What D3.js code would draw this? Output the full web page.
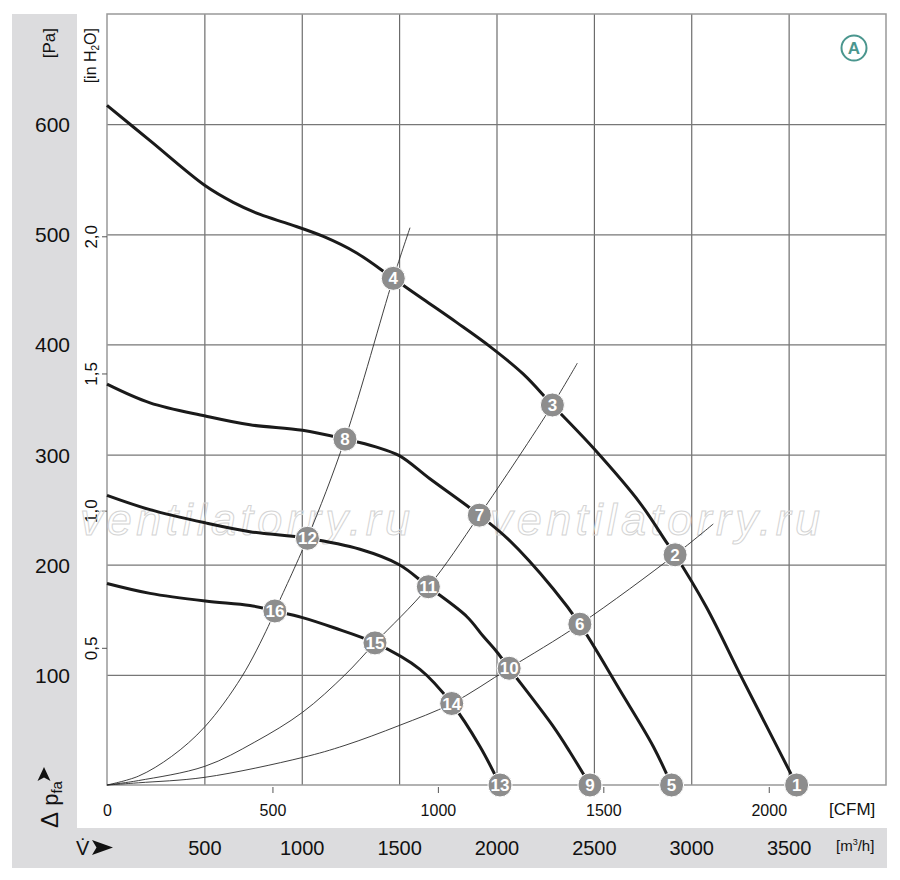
<!DOCTYPE html>
<meta charset="utf-8">
<script src="https://d3js.org/d3.v7.min.js"></script>
<style>
  body { margin: 0; background: #fff; }
  text { font-family: "Liberation Sans", Arial, sans-serif; fill: #111; }
  .narrow { font-family: "Liberation Sans Narrow", "Liberation Sans", sans-serif; }
</style>
<div id="chart"></div>

<script>
    // tick values
    const flowTicks = [500, 1000, 1500, 2000, 2500, 3000, 3500];   // m3/h
    const cfmTicks = [0, 500, 1000, 1500, 2000];
    const paTicks = [100, 200, 300, 400, 500, 600];
    const inchTicks = [0.5, 1.0, 1.5, 2.0];

    // fan curves: [m3/h, Pa]
    const fan1 = [[0, 617], [221, 585], [505, 544], [648, 529], [786, 518], [940, 509], [1111, 498],
        [1282, 483], [1470, 460], [1624, 441], [1795, 420], [1967, 398], [2138, 373], [2287, 345],
        [2502, 305], [2737, 256], [2874, 220], [2917, 209], [3076, 162], [3252, 100], [3388, 53], [3541, 0]];
    const fan2 = [[0, 364], [221, 347], [505, 335], [734, 327], [1004, 322], [1222, 314], [1380, 307],
        [1501, 299], [1658, 278], [1912, 245], [2061, 223], [2292, 178], [2428, 146], [2634, 86],
        [2805, 35], [2899, 0]];
    const fan3 = [[0, 263], [221, 250], [505, 238], [734, 230], [1029, 224], [1299, 214], [1501, 200],
        [1650, 180], [1847, 153], [1932, 135], [2001, 121], [2065, 106], [2292, 53], [2377, 30], [2480, 0]];
    const fan4 = [[0, 183], [221, 174], [505, 167], [734, 163], [862, 158], [1004, 152], [1162, 143],
        [1376, 129], [1607, 105], [1770, 74], [1915, 35], [2018, 0]];

    // system (resistance) curves
    const sysA = [[0, 0], [161, 8], [332, 26], [503, 53], [691, 98], [828, 144], [862, 158], [1029, 224],
        [1222, 314], [1470, 460], [1556, 506]];
    const sysB = [[0, 0], [161, 4], [503, 17], [759, 39], [1004, 66], [1222, 100], [1376, 129], [1650, 180],
        [1912, 245], [2287, 345], [2415, 383]];
    const sysC = [[0, 0], [161, 2], [503, 7], [1004, 25], [1222, 36], [1500, 54], [1770, 74], [2065, 106],
        [2428, 146], [2917, 209], [3113, 237]];

    // operating points
    const pointIds = [1, 2, 3, 4, 5, 6, 7, 8, 9, 10, 11, 12, 13, 14, 15, 16];
    const pointFlow = [3541, 2917, 2287, 1470, 2899, 2428, 1912, 1222, 2480, 2065, 1650, 1029, 2018, 1770, 1376, 862];
    const pointPa = [0, 209, 345, 460, 0, 146, 245, 314, 0, 106, 180, 224, 0, 74, 129, 158];

    const W = 900, H = 880;
    const plotL = 107, plotR = 886, plotT = 14, plotB = 785;

    const svg = d3.select("#chart")
        .append("svg")
        .attr("width", W)
        .attr("height", H);

    // grey bands
    svg.append("rect").attr("x", 12).attr("y", 14).attr("width", 65).attr("height", 854).attr("fill", "#dcdcde");
    svg.append("rect").attr("x", 12).attr("y", 828).attr("width", 875).attr("height", 40).attr("fill", "#dcdcde");

    const x = d3.scaleLinear().domain([0, 4000]).range([plotL, plotR]);
    const xCfm = d3.scaleLinear().domain([0, 4000 / 1.699]).range([plotL, plotR]);
    const y = d3.scaleLinear().domain([0, 700]).range([plotB, plotT]);
    const yIn = d3.scaleLinear().domain([0, 700 / 249.09]).range([plotB, plotT]);

    // grid
    const gx = svg.append("g")
        .attr("transform", `translate(0, ${plotB})`)
        .call(d3.axisBottom(x).tickValues(flowTicks).tickSize(-(plotB - plotT)).tickFormat(""));
    gx.select(".domain").remove();
    gx.selectAll("line").attr("stroke", "#606060").attr("stroke-width", 1.1);

    const gy = svg.append("g")
        .attr("transform", `translate(${plotL}, 0)`)
        .call(d3.axisLeft(y).tickValues(paTicks).tickSize(-(plotR - plotL)).tickFormat(""));
    gy.select(".domain").remove();
    gy.selectAll("line").attr("stroke", "#777").attr("stroke-width", 1.2);

    svg.append("rect")
        .attr("x", plotL).attr("y", plotT)
        .attr("width", plotR - plotL).attr("height", plotB - plotT)
        .attr("fill", "none").attr("stroke", "#999").attr("stroke-width", 1.5);

    // Pa labels
    const aPa = svg.append("g")
        .attr("transform", `translate(${plotL}, 0)`)
        .call(d3.axisLeft(y).tickValues(paTicks).tickSize(0).tickPadding(37));
    aPa.select(".domain").remove();
    aPa.selectAll("text").attr("font-size", 21).attr("dy", "0.36em").attr("fill", "#111");

    // in H2O axis
    const aIn = svg.append("g")
        .attr("transform", `translate(${plotL}, 0)`)
        .call(d3.axisLeft(yIn).tickValues(inchTicks).tickSize(5)
            .tickFormat(d => d.toFixed(1).replace(".", ",")));
    aIn.select(".domain").remove();
    aIn.selectAll("line").attr("stroke", "#555");
    aIn.selectAll("text")
        .attr("class", "narrow")
        .attr("x", 0).attr("y", 0).attr("dy", 0)
        .attr("text-anchor", "middle")
        .attr("transform", "translate(-10, 0) rotate(-90)")
        .attr("font-size", 17).attr("fill", "#111");

    // CFM axis
    const aCfm = svg.append("g")
        .attr("transform", `translate(0, ${plotB + 2})`)
        .call(d3.axisBottom(xCfm).tickValues(cfmTicks).tickSize(6).tickFormat(d3.format("d")));
    aCfm.select(".domain").remove();
    aCfm.selectAll("line").attr("stroke", "#555");
    aCfm.selectAll("line").filter(d => d === 0).remove();
    aCfm.selectAll("text").attr("y", 29).attr("dy", 0).attr("font-size", 16).attr("fill", "#111");

    // m3/h axis
    const aFlow = svg.append("g")
        .attr("transform", `translate(0, ${plotB})`)
        .call(d3.axisBottom(x).tickValues(flowTicks).tickSize(0).tickFormat(d3.format("d")));
    aFlow.select(".domain").remove();
    aFlow.selectAll("text").attr("y", 70).attr("dy", 0).attr("font-size", 20).attr("fill", "#111");

    // unit labels
    svg.append("text").attr("class", "narrow")
        .attr("transform", "translate(55, 28) rotate(-90)")
        .attr("text-anchor", "end").attr("font-size", 17).text("[Pa]");
    const inLab = svg.append("text").attr("class", "narrow")
        .attr("transform", "translate(96, 28) rotate(-90)")
        .attr("text-anchor", "end").attr("font-size", 16);
    inLab.append("tspan").text("[in H");
    inLab.append("tspan").attr("font-size", 10).attr("dy", 3).text("2");
    inLab.append("tspan").attr("dy", -3).text("O]");

    svg.append("text").attr("x", 829).attr("y", 815).attr("font-size", 17).text("[CFM]");
    const m3 = svg.append("text").attr("x", 836).attr("y", 851).attr("font-size", 15);
    m3.append("tspan").text("[m");
    m3.append("tspan").attr("font-size", 9).attr("dy", -6).text("3");
    m3.append("tspan").attr("dy", 6).text("/h]");

    // axis titles
    const dp = svg.append("text")
        .attr("transform", "translate(58, 828) rotate(-90)")
        .attr("font-size", 22);
    dp.append("tspan").attr("font-size", 24).text("\u0394");
    dp.append("tspan").text(" p");
    dp.append("tspan").attr("font-size", 15).attr("dy", 4).text("fa");

    svg.append("path")
        .attr("d", "M44,767 L50.5,781 L44,777.5 L37.5,781 Z")
        .attr("fill", "#111");

    svg.append("text").attr("x", 76).attr("y", 855).attr("font-size", 20).text("V\u0307");
    svg.append("path")
        .attr("d", "M113,847.5 L92,840 L96.5,847.5 L92,855 Z")
        .attr("fill", "#111");

    // badge A
    svg.append("circle").attr("cx", 854).attr("cy", 48).attr("r", 12.5)
        .attr("fill", "#fff").attr("stroke", "#4a968e").attr("stroke-width", 2);
    svg.append("text").attr("class", "narrow")
        .attr("x", 854).attr("y", 54).attr("text-anchor", "middle")
        .attr("font-size", 17).attr("font-weight", "bold")
        .style("fill", "#4a968e").text("A");

    // watermark
    [80, 490].forEach(wx => {
        svg.append("text")
            .attr("x", wx).attr("y", 535)
            .attr("font-size", 45).attr("font-style", "italic")
            .attr("textLength", 330).attr("lengthAdjust", "spacing")
            .style("fill", "none").style("stroke", "#d4d4d4").style("stroke-width", 1)
            .text("ventilatorry.ru");
    });

    const line = d3.line()
        .x(d => x(d[0]))
        .y(d => y(d[1]))
        .curve(d3.curveCatmullRom.alpha(0.5));

    // system curves
    svg.selectAll(".sys")
        .data([sysA, sysB, sysC])
        .join("path")
        .attr("class", "sys")
        .attr("d", line)
        .attr("fill", "none")
        .attr("stroke", "#2a2a2a")
        .attr("stroke-width", 0.9);

    // fan curves
    svg.selectAll(".fan")
        .data([fan1, fan2, fan3, fan4])
        .join("path")
        .attr("class", "fan")
        .attr("d", line)
        .attr("fill", "none")
        .attr("stroke", "#1a1a1a")
        .attr("stroke-width", 3);

    // operating points
    const pts = svg.selectAll(".pt")
        .data(pointIds)
        .join("g")
        .attr("class", "pt")
        .attr("transform", (d, i) => `translate(${x(pointFlow[i])}, ${y(pointPa[i])})`);
    pts.append("circle")
        .attr("r", 12)
        .attr("fill", "#8d8d8d")
        .attr("stroke", "#fff")
        .attr("stroke-width", 1);
    pts.append("text")
        .attr("class", "narrow")
        .attr("text-anchor", "middle")
        .attr("dy", "0.36em")
        .attr("font-size", 17)
        .attr("font-weight", "bold")
        .style("fill", "#fff")
        .text(d => d);
</script>
